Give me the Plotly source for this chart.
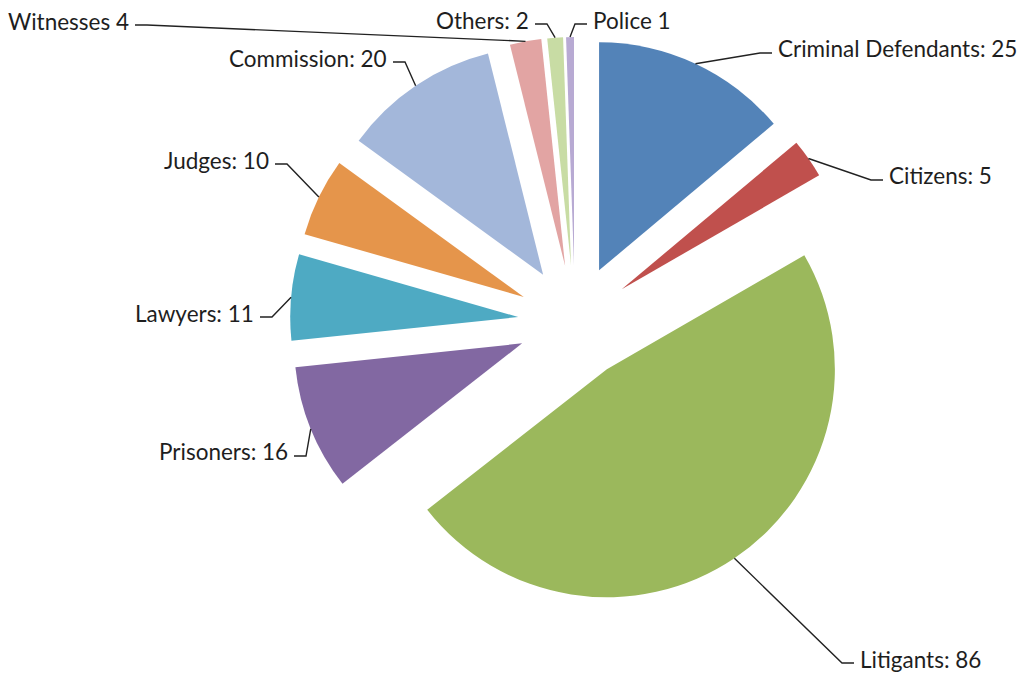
import math
import plotly.graph_objects as go

# ---- data ----
labels = ["Criminal Defendants", "Citizens", "Litigants", "Prisoners", "Lawyers",
          "Judges", "Commission", "Witnesses", "Others", "Police"]
values = [25, 5, 86, 16, 11, 10, 20, 4, 2, 1]
separators = [": ", ": ", ": ", ": ", ": ", ": ", ": ", " ", ": ", " "]
colors = ["#5383B8", "#C0504D", "#9BB85C", "#8268A2", "#4EAAC3",
          "#E5954B", "#A3B7DA", "#E2A4A3", "#C8DCA4", "#B8AAD3"]

# ---- layout (pixels) ----
W, H = 1022, 673
CX, CY = 575, 322        # pie centre
R = 228                  # pie radius
PULL = 0.25
# label placement: text edge x, text centre y, xanchor
label_place = [
    (776, 49, "left"),
    (887, 176, "left"),
    (858, 659, "left"),
    (290, 452, "right"),
    (256, 313, "right"),
    (271, 160, "right"),
    (389, 58, "right"),
    (131, 21, "right"),
    (531, 20, "right"),
    (591, 20, "left"),
]
FONT = dict(family="Lato, 'Open Sans', sans-serif", size=22.5, color="#1e1e1e")


def px(x):
    return x / W


def py(y):
    return 1 - y / H


half = R * (1 + PULL)
fig = go.Figure(go.Pie(
    labels=labels,
    values=values,
    sort=False,
    direction="clockwise",
    rotation=0,
    pull=[PULL] * len(values),
    marker=dict(colors=colors, line=dict(width=0)),
    textinfo="none",
    hoverinfo="label+value",
    showlegend=False,
    domain=dict(x=[px(CX - half), px(CX + half)], y=[py(CY + half), py(CY - half)]),
))

total = sum(values)
cum = 0
shapes = []
annotations = []
for lab, val, sep, (tx, ty, anchor) in zip(labels, values, separators, label_place):
    mid = (cum + val / 2) / total * 2 * math.pi
    cum += val
    ax = CX + half * math.sin(mid)
    ay = CY - half * math.cos(mid)
    sgn = 1 if anchor == "right" else -1
    x0 = tx + sgn * 4
    x1 = x0 + sgn * 12
    yl = ty + 4
    path = f"M {px(x0)},{py(yl)} L {px(x1)},{py(yl)} L {px(ax)},{py(ay)}"
    shapes.append(dict(type="path", xref="paper", yref="paper", path=path,
                       line=dict(color="#222222", width=1.4)))
    annotations.append(dict(text=f"{lab}{sep}{val}", xref="paper", yref="paper",
                            x=px(tx), y=py(ty), xanchor=anchor, yanchor="middle",
                            showarrow=False, font=FONT))

fig.update_layout(
    width=W, height=H,
    margin=dict(l=0, r=0, t=0, b=0),
    paper_bgcolor="white", plot_bgcolor="white",
    shapes=shapes, annotations=annotations,
)
fig.write_html("out.html")
